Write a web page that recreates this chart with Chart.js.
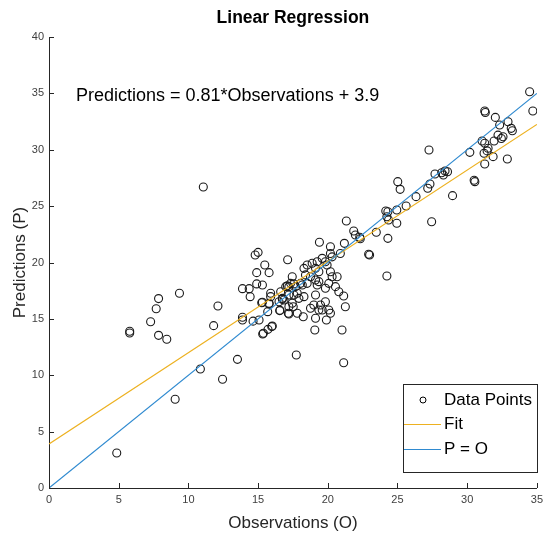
<!DOCTYPE html>
<html>
<head>
<meta charset="utf-8">
<script src="https://cdn.jsdelivr.net/npm/chart.js@4.4.0/dist/chart.umd.min.js"></script>
<style>
  body { margin: 0; background: #fff; }
  #wrap { width: 548px; height: 538px; }
</style>
</head>
<body>
<div id="wrap"><canvas id="regChart" width="548" height="538"></canvas></div>
<script>
const observations = [
  4.86, 9.05, 10.86, 12.45, 13.52, 5.79, 5.79, 7.29, 7.86, 8.45,
  7.69, 7.86, 9.36, 11.07, 12.12, 11.81, 13.88, 14.36, 14.43, 14.9,
  15.31, 14.9, 14.79, 15.0, 15.48, 15.79, 17.12, 15.31, 15.9, 15.9,
  15.69, 13.88, 13.88, 14.64, 15.07, 16.57, 16.74, 17.17, 17.52, 17.45,
  17.1, 17.57, 17.81, 15.33, 15.71, 16.02, 15.79, 17.21, 17.74, 17.81,
  21.33, 21.86, 21.98, 21.19, 22.29, 19.4, 20.19, 22.93, 20.9, 20.19,
  20.31, 19.6, 19.24, 18.88, 18.52, 18.29, 19.83, 19.95, 19.12, 19.36,
  18.4, 18.76, 17.33, 20.19, 20.31, 20.67, 20.07, 20.55, 19.24, 19.36,
  18.17, 16.98, 16.62, 17.69, 18.05, 18.52, 19.12, 19.83, 19.12, 20.79,
  21.14, 17.57, 17.93, 18.29, 17.45, 17.21, 19.0, 19.48, 18.76, 19.36,
  19.83, 20.07, 20.19, 19.6, 21.26, 18.24, 19.12, 19.9, 19.07, 21.02,
  21.14, 34.48, 34.71, 31.26, 31.3, 32.02, 32.33, 32.93, 33.16, 33.24,
  32.21, 32.45, 32.57, 31.93, 31.07, 31.26, 31.5, 31.43, 31.21, 31.86,
  31.26, 32.88, 30.19, 30.5, 30.55, 28.95, 27.26, 27.69, 28.17, 28.41,
  28.59, 28.29, 27.33, 27.17, 26.33, 25.62, 27.45, 25.02, 25.19, 24.95,
  24.16, 24.31, 24.24, 24.36, 24.95, 24.31, 23.48, 24.24, 22.33, 23.0,
  15.26, 15.79, 16.5, 16.74, 16.86, 16.55, 17.21, 15.38, 15.98, 17.21
]
const predictions = [
  3.1, 7.87, 10.55, 9.64, 11.41, 13.9, 13.75, 14.75, 13.54, 13.19,
  15.9, 16.8, 17.27, 26.7, 16.14, 14.4, 17.68, 17.68, 16.97, 18.1,
  18.0, 19.1, 20.67, 20.9, 19.78, 19.1, 20.25, 16.47, 17.27, 16.97,
  15.64, 15.14, 14.9, 14.8, 14.9, 15.76, 16.74, 15.5, 16.08, 18.74,
  17.94, 18.1, 17.27, 13.66, 14.07, 14.37, 16.38, 15.43, 11.8, 15.5,
  23.68, 22.79, 22.44, 21.7, 22.24, 21.8, 21.4, 20.73, 20.8, 20.8,
  20.5, 20.37, 20.07, 19.93, 19.78, 19.48, 20.07, 19.78, 19.48, 19.18,
  18.9, 18.74, 18.15, 19.18, 18.74, 18.74, 18.15, 17.86, 18.0, 18.3,
  18.0, 17.86, 17.41, 17.86, 18.15, 18.15, 18.45, 17.71, 17.12, 17.41,
  17.03, 17.12, 16.82, 16.97, 16.38, 16.08, 16.23, 16.23, 15.94, 15.79,
  16.52, 15.79, 15.5, 15.79, 16.08, 15.19, 15.05, 14.9, 14.01, 14.01,
  11.11, 35.15, 33.44, 33.44, 33.3, 32.87, 32.19, 32.49, 31.9, 31.69,
  31.3, 31.0, 31.15, 30.78, 30.78, 30.57, 30.13, 29.9, 29.69, 29.39,
  28.74, 29.18, 29.77, 27.3, 27.17, 25.93, 29.98, 27.85, 27.96, 28.12,
  28.05, 27.76, 26.96, 26.58, 25.84, 25.01, 23.62, 27.17, 26.49, 24.66,
  24.57, 24.5, 24.06, 23.77, 23.48, 22.14, 22.68, 18.8, 22.1, 20.67,
  16.43, 16.32, 16.52, 16.82, 16.67, 15.73, 17.86, 13.72, 14.31, 17.12
]
const fitSlope = 0.81
const fitIntercept = 3.9
const lineX = [0, 35]
const seriesLabels = ['Data Points', 'Fit', 'P = O']

const orange = '#EDB120'
const blue = '#2F8AD0'
const axisColor = '#262626'
const fontFamily = '"Liberation Sans", Arial, Helvetica, sans-serif'

const points = observations.map((o, i) => ({ x: o, y: predictions[i] }))
const fitPoints = lineX.map(x => ({ x: x, y: fitSlope * x + fitIntercept }))
const identityPoints = lineX.map(x => ({ x: x, y: x }))

// ticks drawn inward like the original axes
const innerTicks = {
  id: 'innerTicks',
  afterDatasetsDraw(chart) {
    const c = chart.ctx
    const area = chart.chartArea
    const xs = chart.scales.x
    const ys = chart.scales.y
    c.save()
    c.strokeStyle = axisColor
    c.lineWidth = 1
    c.beginPath()
    xs.ticks.forEach(t => {
      const px = Math.round(xs.getPixelForValue(t.value)) + 0.5
      c.moveTo(px, area.bottom)
      c.lineTo(px, area.bottom - 5)
    })
    ys.ticks.forEach(t => {
      const py = Math.round(ys.getPixelForValue(t.value)) + 0.5
      c.moveTo(area.left, py)
      c.lineTo(area.left + 5, py)
    })
    c.stroke()
    c.restore()
  }
}

const textLayer = {
  id: 'textLayer',
  afterDraw(chart) {
    const c = chart.ctx
    const area = chart.chartArea
    c.save()
    c.fillStyle = '#000'
    c.textBaseline = 'middle'
    c.textAlign = 'center'
    c.font = 'bold 17.5px ' + fontFamily
    c.fillText('Linear Regression', (area.left + area.right) / 2, 18)

    c.textAlign = 'left'
    c.font = '18px ' + fontFamily
    c.fillText('Predictions = ' + fitSlope + '*Observations + ' + fitIntercept, 76, 96)

    // legend box
    const bx = 403, by = 384, bw = 134, bh = 88
    c.fillStyle = '#fff'
    c.fillRect(bx, by, bw, bh)
    c.strokeStyle = axisColor
    c.lineWidth = 1
    c.strokeRect(bx + 0.5, by + 0.5, bw, bh)
    c.font = '17px ' + fontFamily
    const rows = [400, 424, 449]
    chart.data.datasets.forEach((ds, i) => {
      const ry = rows[i]
      if (i === 0) {
        c.beginPath()
        c.arc(423, ry, 3, 0, Math.PI * 2)
        c.strokeStyle = '#000'
        c.stroke()
      } else {
        c.beginPath()
        c.strokeStyle = ds.borderColor
        c.moveTo(404, ry + 0.5)
        c.lineTo(441, ry + 0.5)
        c.stroke()
      }
      c.fillStyle = '#000'
      c.fillText(ds.label, 444, ry)
    })
    c.restore()
  }
}

const regChart = new Chart(document.getElementById('regChart'), {
  type: 'scatter',
  data: {
    datasets: [{
      label: seriesLabels[0],
      data: points,
      pointStyle: 'circle',
      pointRadius: 4,
      pointHoverRadius: 4,
      borderColor: '#1a1a1a',
      backgroundColor: 'rgba(0,0,0,0)',
      borderWidth: 1.1,
      order: 3
    }, {
      label: seriesLabels[1],
      type: 'line',
      data: fitPoints,
      borderColor: orange,
      borderWidth: 1.2,
      pointRadius: 0,
      fill: false,
      order: 2
    }, {
      label: seriesLabels[2],
      type: 'line',
      data: identityPoints,
      borderColor: blue,
      borderWidth: 1.2,
      pointRadius: 0,
      fill: false,
      order: 1
    }]
  },
  options: {
    responsive: false,
    animation: false,
    layout: { padding: { top: 37, right: 9, left: 0, bottom: 0 } },
    plugins: {
      legend: { display: false },
      title: { display: false },
      tooltip: { enabled: false }
    },
    scales: {
      x: {
        type: 'linear',
        min: 0,
        max: 35,
        ticks: { stepSize: 5, color: '#404040', padding: 5, font: { family: fontFamily, size: 11 } },
        grid: { display: false, drawTicks: false },
        border: { display: true, color: axisColor, width: 1 },
        title: { display: true, text: 'Observations (O)', color: axisColor, padding: { top: 0, bottom: 4 }, font: { family: fontFamily, size: 17 } },
        afterFit(scale) { scale.height = 50 }
      },
      y: {
        type: 'linear',
        min: 0,
        max: 40,
        ticks: { stepSize: 5, color: '#404040', padding: 5, font: { family: fontFamily, size: 11 } },
        grid: { display: false, drawTicks: false },
        border: { display: true, color: axisColor, width: 1 },
        title: { display: true, text: 'Predictions (P)', color: axisColor, padding: { top: 10, bottom: 0 }, font: { family: fontFamily, size: 17 } },
        afterFit(scale) { scale.width = 49 }
      }
    }
  },
  plugins: [innerTicks, textLayer]
})
</script>
</body>
</html>
